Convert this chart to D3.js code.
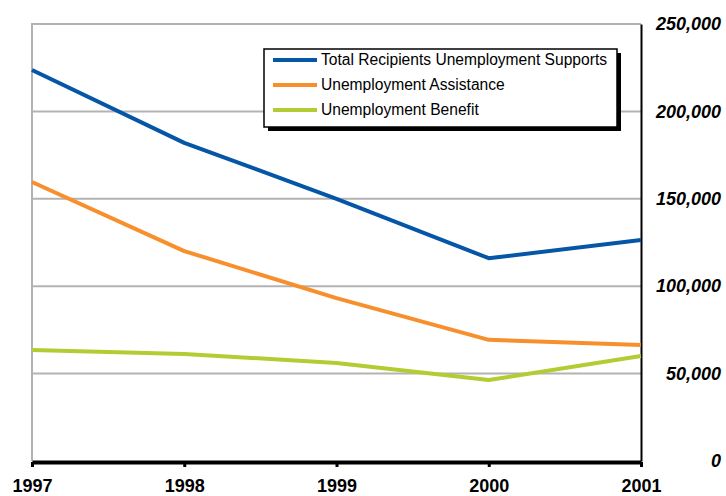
<!DOCTYPE html>
<html>
<head>
<meta charset="utf-8">
<script src="https://cdn.jsdelivr.net/npm/d3@7"></script>
<style>
  body { margin: 0; background: #fff; }
  svg { font-family: "Liberation Sans", Arial, Helvetica, sans-serif; }
</style>
</head>
<body>
<div id="chart"></div>
<script>
const years = [1997, 1998, 1999, 2000, 2001]
const totalSupports = [223700, 182000, 150000, 116000, 126400]
const assistance = [159600, 120100, 93200, 69300, 66400]
const benefit = [63500, 61200, 56100, 46300, 60100]
const yTicks = [0, 50000, 100000, 150000, 200000, 250000]
const seriesNames = ["Total Recipients Unemployment Supports", "Unemployment Assistance", "Unemployment Benefit"]
const seriesColors = ["#0556a6", "#f88f2d", "#b5cb34"]

const width = 726, height = 496
const plotLeft = 32, plotRight = 641, plotTop = 24, plotBottom = 461

const svg = d3.select("#chart")
    .append("svg")
    .attr("width", width)
    .attr("height", height)

const x = d3.scaleLinear()
    .domain([years[0], years[years.length - 1]])
    .range([plotLeft, plotRight])

const y = d3.scaleLinear()
    .domain([0, 250000])
    .range([plotBottom, plotTop])

// gridlines
svg.append("g")
    .selectAll("line")
    .data(yTicks.filter(d => d > 0))
    .join("line")
    .attr("x1", plotLeft)
    .attr("x2", plotRight)
    .attr("y1", d => y(d))
    .attr("y2", d => y(d))
    .attr("stroke", "#b3b3b3")
    .attr("stroke-width", 2)

// left gray frame line
svg.append("line")
    .attr("x1", plotLeft).attr("x2", plotLeft)
    .attr("y1", plotTop - 1).attr("y2", plotBottom)
    .attr("stroke", "#b3b3b3")
    .attr("stroke-width", 2)

// right axis
const yAxis = svg.append("g")
    .attr("transform", `translate(${plotRight}, 0)`)
    .call(d3.axisRight(y)
        .tickValues(yTicks)
        .tickSize(0)
        .tickSizeOuter(0)
        .tickFormat(d3.format(","))
    )
yAxis.select(".domain").attr("stroke", "#000").attr("stroke-width", 2)
yAxis.selectAll("text")
    .attr("x", 80)
    .attr("dy", "0.32em")
    .attr("text-anchor", "end")
    .attr("font-size", 18)
    .attr("font-weight", "bold")
    .attr("font-style", "italic")
    .attr("fill", "#000")

// series lines
const allSeries = [totalSupports, assistance, benefit]
const line = d3.line()
    .x((d, i) => x(years[i]))
    .y(d => y(d))

allSeries.forEach((s, i) => {
    svg.append("path")
        .datum(s)
        .attr("fill", "none")
        .attr("stroke", seriesColors[i])
        .attr("stroke-width", 4)
        .attr("stroke-linejoin", "round")
        .attr("d", line)
})

// bottom axis
const xAxis = svg.append("g")
    .attr("transform", `translate(0, ${plotBottom + 1})`)
    .call(d3.axisBottom(x)
        .tickValues(years)
        .tickSize(5)
        .tickSizeOuter(0)
        .tickPadding(12)
        .tickFormat(d3.format("d"))
    )
xAxis.select(".domain").attr("stroke", "#000").attr("stroke-width", 4)
xAxis.selectAll(".tick line").attr("stroke", "#000").attr("stroke-width", 3)
xAxis.selectAll("text")
    .attr("font-size", 18)
    .attr("font-weight", "bold")
    .attr("fill", "#000")

// legend
const lg = svg.append("g").attr("transform", "translate(264, 49)")
lg.append("rect")
    .attr("x", 4).attr("y", 4)
    .attr("width", 353).attr("height", 78)
    .attr("fill", "#000")
lg.append("rect")
    .attr("width", 353).attr("height", 78)
    .attr("fill", "#fff")
    .attr("stroke", "#000")
    .attr("stroke-width", 1.5)

seriesNames.forEach((name, i) => {
    const row = lg.append("g").attr("transform", `translate(0, ${11 + i * 25})`)
    row.append("line")
        .attr("x1", 9).attr("x2", 53)
        .attr("stroke", seriesColors[i])
        .attr("stroke-width", 4)
    row.append("text")
        .attr("x", 57)
        .attr("dy", "0.35em")
        .attr("font-size", 15.6)
        .attr("fill", "#000")
        .text(name)
})
</script>
</body>
</html>
